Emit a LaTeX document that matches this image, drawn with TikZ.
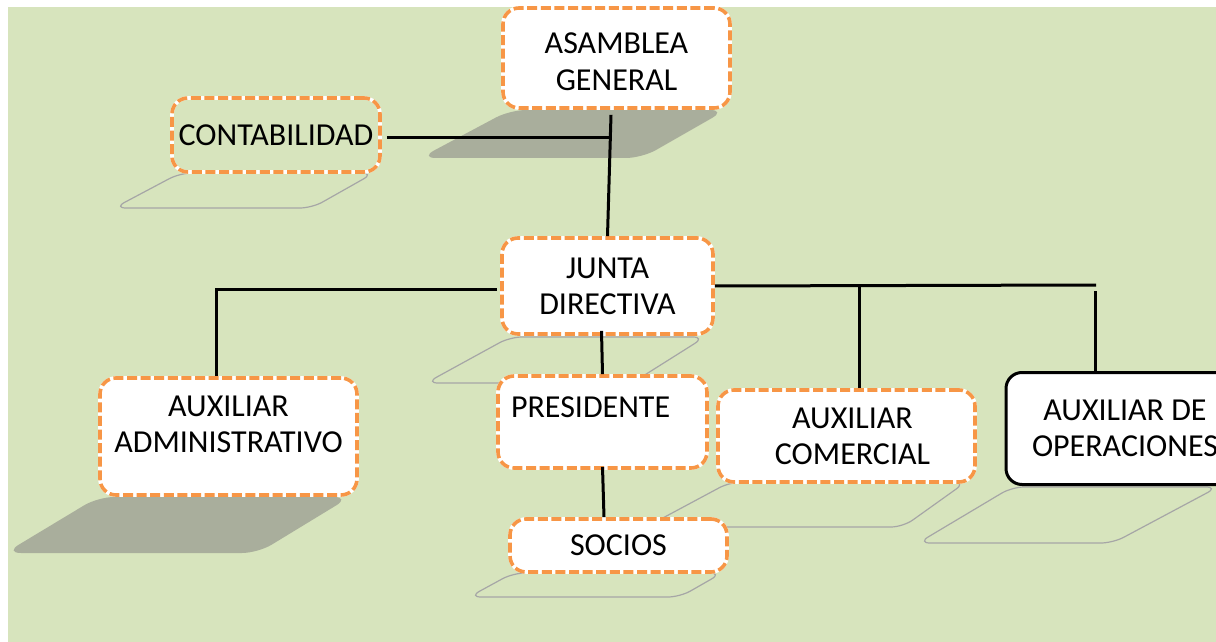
\documentclass[tikz,border=0pt]{standalone}
\usepackage{fontspec}
\setmainfont{Carlito}
\usetikzlibrary{positioning}
\definecolor{bggreen}{RGB}{215,228,189}
\definecolor{boxorange}{RGB}{247,150,70}
\definecolor{shadowgray}{RGB}{169,174,156}
\definecolor{shadowedge}{RGB}{166,166,166}
\tikzset{
  orgbox/.style={draw=boxorange, rounded corners=8pt, line width=1.8pt, dash pattern=on 5pt off 1.8pt,
    preaction={draw=white, solid, line width=1.8pt}, fill=white, align=center, inner sep=0pt,
    font=\fontsize{16}{18}\selectfont},
  orgbox2/.style={draw=black, rounded corners=8pt, line width=1.5pt, fill=white, align=center, inner sep=0pt,
    font=\fontsize{16}{18}\selectfont},
  orgline/.style={line width=1.5pt, black},
  shadowfill/.style={fill=shadowgray, rounded corners=8pt},
  shadowline/.style={draw=shadowedge, line width=0.6pt, rounded corners=6pt}
}
\begin{document}
\begin{tikzpicture}[x=0.5pt, y=-0.5pt]
  \useasboundingbox (0,0) rectangle (1216,642);
  \clip (0,0) rectangle (1216,642);
  \fill[white] (0,0) rectangle (1216,642);
  \fill[bggreen] (8,7) rectangle (1216,642);

  \fill[shadowfill] (510,110) -- (726,110) -- (642,158) -- (420,158) -- cycle;
  \draw[shadowline] (180,173) -- (374,173) -- (312,208) -- (114,208) -- cycle;
  \draw[shadowline] (510,337) -- (705,337) -- (632,383) -- (426,383) -- cycle;
  \fill[shadowfill] (98,497) -- (350,497) -- (258,553) -- (5,553) -- cycle;
  \draw[shadowline] (513,573) -- (722,573) -- (680,597) -- (469,597) -- cycle;
  \draw[shadowline] (730,482) -- (966,482) -- (903,527) -- (646,527) -- cycle;
  \draw[shadowline] (1012,487) -- (1218,487) -- (1113,543) -- (918,543) -- cycle;

  \node[orgbox, minimum width=113.5pt, minimum height=50pt, text height=32.8pt] (asamblea) at (616.5,58) {ASAMBLEA\\[0.5pt]GENERAL};
  \node[orgbox, fill=none, minimum width=104pt, minimum height=37pt] (conta) at (276,135) {CONTABILIDAD};
  \node[orgbox, minimum width=105.5pt, minimum height=48pt] (junta) at (607.5,286) {JUNTA\\DIRECTIVA};
  \node[orgbox, text width=128.5pt, minimum height=58.5pt, text depth=30pt] (auxadm) at (228.5,436.5) {AUXILIAR\\ADMINISTRATIVO};
  \node[orgbox, align=left, text width=91.5pt, inner xsep=6.5pt, minimum height=46pt, text depth=15pt] (presidente) at (602.5,422) {PRESIDENTE};
  \node[orgbox, minimum width=108.5pt, minimum height=26.5pt] (socios) at (618.5,545.5) {SOCIOS};
  \node[orgbox, minimum width=128.5pt, minimum height=46pt] (auxcom) at (846.5,436) {\hspace*{6pt}AUXILIAR\\\hspace*{6pt}COMERCIAL};
  \node[orgbox2, minimum width=119pt, minimum height=56pt] (auxop) at (1125,428.5) {AUXILIAR DE\\OPERACIONES};

  \coordinate (asamjoin) at (612,138);
  \coordinate (opjoin) at (1096,285);
  \coordinate (opdrop) at (1095,291);
  \draw[orgline] ([xshift=-2.75pt,yshift=-2.5pt]asamblea.south) -- (junta.north);
  \draw[orgline] ([xshift=2.5pt,yshift=-1.5pt]conta.east) -- (asamjoin);
  \draw[orgline] ([xshift=-1.5pt,yshift=-1.5pt]junta.west) -| ([xshift=-6.25pt]auxadm.north);
  \draw[orgline] (junta.east) -- (opjoin);
  \draw[orgline] ([xshift=6.25pt]auxcom.north) -- ([xshift=6.25pt]auxcom.north |- junta.east);
  \draw[orgline] (opdrop) -- ([xshift=-15pt]auxop.north);
  \draw[orgline] ([xshift=-3pt,yshift=2.5pt]junta.south) -- (presidente.north);
  \draw[orgline] ([yshift=1.5pt]presidente.south) -- ([xshift=-7.25pt]socios.north);
\end{tikzpicture}
\end{document}
